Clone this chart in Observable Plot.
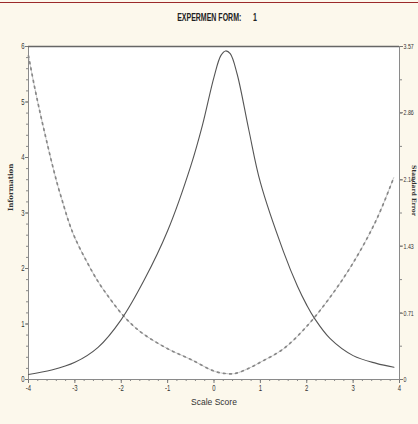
<!DOCTYPE html>
<html><head><meta charset="utf-8">
<script src="https://cdn.jsdelivr.net/npm/d3@7"></script>
<script src="https://cdn.jsdelivr.net/npm/@observablehq/plot@0.6"></script>
<style>
body{margin:0;background:#fcf8ec;}
#wrap{position:relative;width:418px;height:424px;background:#fcf8ec;overflow:hidden;}
#redline{position:absolute;left:0;top:2px;width:418px;height:1px;background:#9b2a2a;}
.title text{white-space:pre;}
</style></head>
<body><div id="wrap"><div id="redline"></div></div>
<script>
// Test information curve (left axis)
const infoTheta = [-4, -3.5, -3, -2.5, -2, -1.5, -1, -0.5, -0.25, 0, 0.15, 0.25, 0.35, 0.5, 0.75, 1, 1.5, 1.8, 2, 2.16, 2.5, 3, 3.5, 3.88];
const infoVal   = [0.09, 0.17, 0.31, 0.58, 1.08, 1.80, 2.68, 3.85, 4.58, 5.45, 5.84, 5.92, 5.87, 5.5, 4.5, 3.55, 2.3, 1.68, 1.34, 1.11, 0.74, 0.43, 0.29, 0.22];
// Standard error curve (right axis)
const seTheta = [-4, -3.875, -3.75, -3.625, -3.5, -3.375, -3.25, -3.125, -3, -2.75, -2.5, -2.25, -2, -1.75, -1.5, -1, -0.5, 0, 0.25, 0.45, 0.75, 1, 1.5, 2, 2.5, 3, 3.5, 3.88];
const seVal   = [3.47, 3.15, 2.86, 2.59, 2.33, 2.09, 1.88, 1.68, 1.52, 1.27, 1.05, 0.87, 0.71, 0.58, 0.48, 0.33, 0.215, 0.09, 0.064, 0.064, 0.12, 0.185, 0.33, 0.57, 0.88, 1.25, 1.71, 2.17];
// Tick labels
const xTicks = [-4, -3, -2, -1, 0, 1, 2, 3, 4];
const yTicks = [0, 1, 2, 3, 4, 5, 6];
const seTicks = [0, 0.71, 1.43, 2.14, 2.86, 3.57];
const seLabels = ["0", "0.71", "1.43", "2.14", "2.86", "3.57"];
const seMax = 3.57, infoMax = 6;
const toY = v => v * infoMax / seMax;

const infoData = infoTheta.map((t, i) => ({t, v: infoVal[i]}));
const seData = seTheta.map((t, i) => ({t, v: toY(seVal[i])}));

const font = "'Liberation Sans','Arial',sans-serif";
const serif = "'DejaVu Serif','Liberation Serif',serif";

const plot = Plot.plot({
  width: 418, height: 424,
  marginTop: 46, marginBottom: 45, marginLeft: 28, marginRight: 19,
  style: {background: "transparent", fontFamily: font, fontSize: "8px", color: "#333"},
  x: {domain: [-4, 4]},
  y: {domain: [0, 6]},
  marks: [
    Plot.frame({fill: "white", stroke: null}),
    // minor ticks
    Plot.axisX({ticks: d3.range(-4, 4.001, 0.2), tickSize: 2, tickFormat: () => "", label: null, stroke: "#888"}),
    Plot.axisY({ticks: d3.range(0, 6.001, 0.2), tickSize: 2, tickFormat: () => "", label: null, stroke: "#888"}),
    Plot.axisY({anchor: "right", ticks: d3.range(0, seMax + 0.001, seMax / 10).map(toY), tickSize: 2, tickFormat: () => "", label: null, stroke: "#888"}),
    // major ticks
    Plot.axisX({ticks: xTicks, tickSize: 4, tickPadding: 1, tickFormat: d => String(d), stroke: "#777",
      label: "Scale Score", labelAnchor: "center", labelArrow: "none", labelOffset: 25, fontSize: 8.5, className: "narrow"}),
    Plot.axisY({ticks: yTicks, tickSize: 3, tickPadding: 1, tickFormat: d => String(d), label: null, stroke: "#777", fontSize: 8.5, className: "narrow"}),
    Plot.axisY({anchor: "right", ticks: seTicks.map(toY), tickSize: 3, tickPadding: 1, stroke: "#777", fontSize: 7.5, className: "narrow",
      tickFormat: d => seLabels[seTicks.findIndex(s => Math.abs(toY(s) - d) < 1e-6)], label: null}),
    Plot.frame({stroke: "#8a8a8a", strokeWidth: 1}),
    Plot.ruleY([6], {stroke: "#666", strokeWidth: 1.6}),
    // curves
    Plot.line(seData, {x: "t", y: "v", curve: "catmull-rom", stroke: "#aaa", strokeWidth: 0.7, strokeDasharray: "1.5,1.2"}),
    Plot.line(seData, {x: "t", y: "v", curve: "catmull-rom", stroke: "#888", strokeWidth: 1.7, strokeDasharray: "1.8,4.4"}),
    Plot.line(infoData, {x: "t", y: "v", curve: "catmull-rom", stroke: "#555", strokeWidth: 1.1}),
    // titles
    Plot.text(["EXPERMEN FORM:      1"], {frameAnchor: "top", dx: 3, dy: -33, fontWeight: "bold", fontSize: 10, fill: "#222", className: "title"}),
    Plot.text(["Information"], {frameAnchor: "left", dx: -18, dy: -2, rotate: -90, fontWeight: "bold", fontSize: 7, fontFamily: serif, fill: "#333"}),
    Plot.text(["Standard Error"], {frameAnchor: "right", dx: 14.5, dy: 3, rotate: 90, fontWeight: "bold", fontSize: 6, fontFamily: serif, fill: "#333"})
  ]
});
plot.style.position = "absolute";
plot.style.left = "0px";
plot.style.top = "0px";
document.getElementById("wrap").appendChild(plot);

// emulate the narrow (condensed) typeface of the original
function squeeze(sel, k) {
  plot.querySelectorAll(sel).forEach(el => {
    const w = el.getComputedTextLength();
    if (w > 0) {
      el.setAttribute("textLength", (w * k).toFixed(2));
      el.setAttribute("lengthAdjust", "spacingAndGlyphs");
    }
  });
}
squeeze(".narrow text", 0.7);
squeeze(".title text", 0.7);
</script>
</body></html>
